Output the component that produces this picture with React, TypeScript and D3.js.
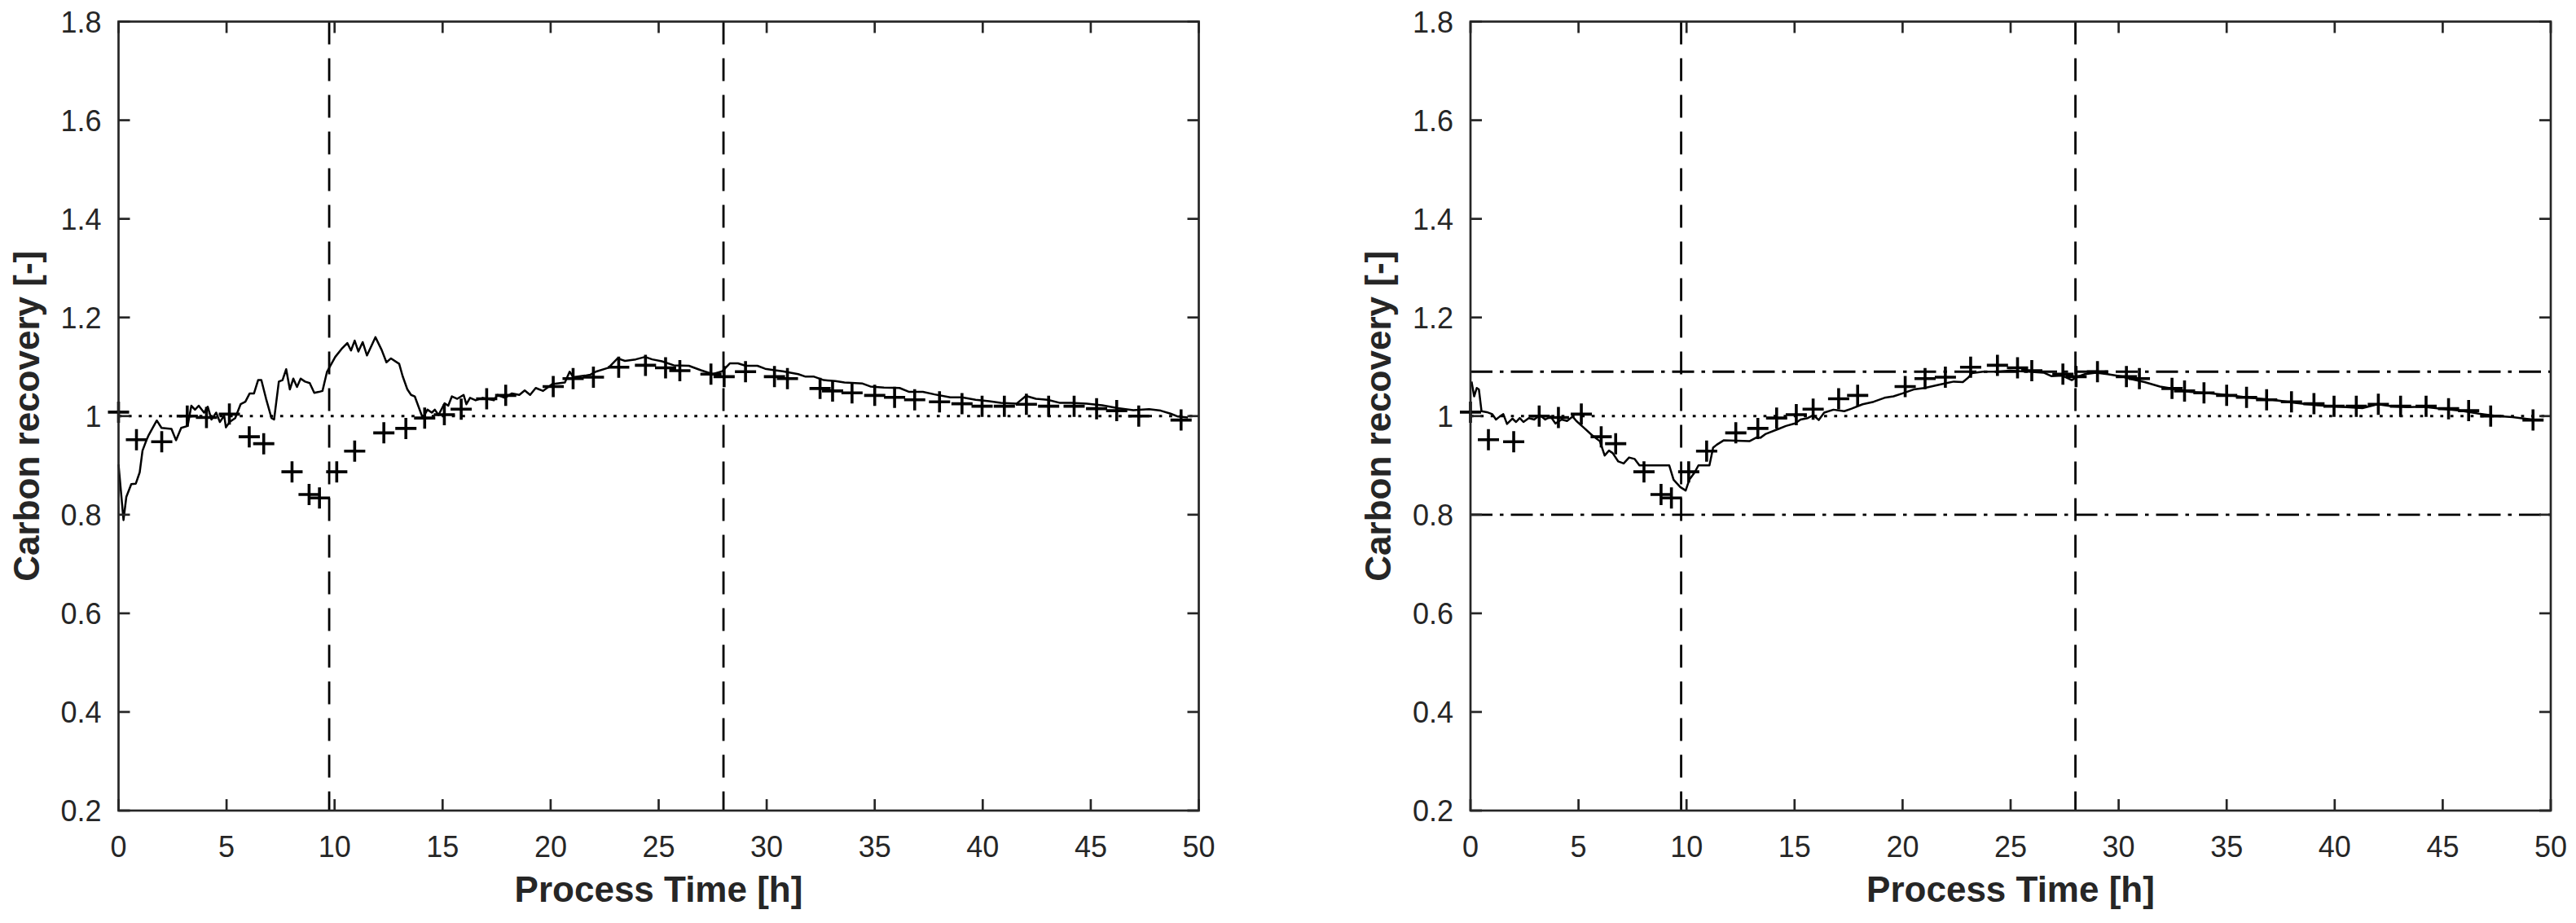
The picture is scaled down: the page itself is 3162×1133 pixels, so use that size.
import React from "react";
import * as d3 from "d3";

// ---- data ----
const xTicks = [0, 5, 10, 15, 20, 25, 30, 35, 40, 45, 50];
const yTicks = [0.2, 0.4, 0.6, 0.8, 1.0, 1.2, 1.4, 1.6, 1.8];
const yTickLabels = ["0.2", "0.4", "0.6", "0.8", "1", "1.2", "1.4", "1.6", "1.8"];
const phaseBoundaries = [9.75, 28];
const referenceLevel = 1.0;
const limitLevels = [1.09, 0.8];

// measured carbon recovery (same measurements in both panels)
const measTime = [0.0, 0.83, 2.0, 3.18, 4.07, 5.13, 6.05, 6.72, 8.03, 8.82, 9.3, 10.1, 10.93, 12.28, 13.3, 14.17, 15.08, 15.86, 17.04, 17.92, 20.12, 21.04, 21.98, 23.15, 24.39, 25.32, 25.98, 27.42, 28.03, 29.02, 30.36, 30.96, 32.47, 33.05, 33.95, 35.0, 35.92, 36.85, 38.0, 39.04, 39.97, 41.0, 42.02, 43.05, 44.23, 45.27, 46.2, 47.22, 49.18];
const measValue = [1.008, 0.952, 0.948, 1.0, 0.997, 1.004, 0.958, 0.944, 0.887, 0.841, 0.834, 0.887, 0.929, 0.966, 0.975, 0.996, 1.003, 1.014, 1.035, 1.042, 1.06, 1.076, 1.079, 1.099, 1.103, 1.098, 1.092, 1.085, 1.08, 1.09, 1.08, 1.076, 1.056, 1.051, 1.047, 1.042, 1.038, 1.033, 1.029, 1.025, 1.02, 1.02, 1.024, 1.02, 1.02, 1.015, 1.011, 1.0, 0.992];

// model, left panel
const leftModelTime = [0, 0.23, 0.36, 0.59, 0.8, 0.98, 1.11, 1.3, 1.38, 1.77, 1.99, 2.45, 2.66, 2.9, 3.2, 3.37, 3.54, 3.71, 3.96, 4.13, 4.3, 4.52, 4.69, 4.89, 4.97, 5.14, 5.4, 5.65, 5.87, 6.07, 6.27, 6.46, 6.61, 6.83, 7.08, 7.2, 7.42, 7.59, 7.76, 7.93, 8.09, 8.26, 8.43, 8.63, 8.85, 9.06, 9.27, 9.44, 9.65, 9.78, 10.03, 10.32, 10.59, 10.76, 10.93, 11.1, 11.3, 11.5, 11.89, 12.18, 12.4, 12.61, 12.99, 13.15, 13.37, 13.54, 13.71, 14.08, 14.3, 14.5, 14.64, 14.81, 15.09, 15.26, 15.43, 15.68, 15.97, 16.1, 16.27, 16.53, 16.86, 17.37, 17.54, 17.88, 18.21, 18.55, 18.8, 19.05, 19.31, 19.65, 20.07, 20.66, 20.88, 21.05, 21.59, 21.84, 22.09, 22.68, 23.1, 23.44, 23.94, 24.37, 24.7, 25.15, 25.7, 26.4, 26.96, 27.5, 27.95, 28.3, 28.67, 29.03, 29.57, 29.93, 30.38, 30.74, 31.46, 31.8, 32.19, 32.64, 33.18, 33.6, 34.44, 34.8, 35.43, 36.15, 36.6, 37.23, 37.77, 38.5, 39.04, 39.67, 40.3, 40.84, 41.56, 42.0, 42.46, 43.0, 43.55, 44.09, 44.81, 45.53, 46.25, 46.97, 47.7, 48.24, 48.69, 49.04, 49.5];
const leftModelValue = [0.902, 0.789, 0.836, 0.862, 0.863, 0.886, 0.93, 0.952, 0.96, 0.991, 0.976, 0.974, 0.951, 0.976, 0.98, 1.021, 1.013, 1.021, 1.007, 1.019, 0.993, 1.007, 0.988, 1.001, 0.977, 0.988, 0.996, 1.024, 1.029, 1.046, 1.046, 1.073, 1.073, 1.035, 0.996, 0.993, 1.07, 1.073, 1.095, 1.054, 1.076, 1.059, 1.076, 1.07, 1.067, 1.047, 1.049, 1.051, 1.09, 1.1, 1.12, 1.136, 1.148, 1.133, 1.153, 1.131, 1.15, 1.123, 1.16, 1.134, 1.109, 1.117, 1.106, 1.081, 1.054, 1.043, 1.04, 0.996, 1.013, 1.007, 1.013, 1.002, 1.026, 1.021, 1.04, 1.035, 1.043, 1.024, 1.037, 1.032, 1.037, 1.032, 1.043, 1.037, 1.046, 1.043, 1.052, 1.043, 1.057, 1.051, 1.065, 1.068, 1.09, 1.079, 1.082, 1.084, 1.09, 1.098, 1.117, 1.112, 1.115, 1.12, 1.115, 1.111, 1.103, 1.102, 1.093, 1.085, 1.091, 1.107, 1.107, 1.102, 1.102, 1.096, 1.093, 1.091, 1.085, 1.08, 1.08, 1.073, 1.071, 1.068, 1.066, 1.06, 1.058, 1.057, 1.049, 1.049, 1.044, 1.038, 1.038, 1.033, 1.03, 1.027, 1.025, 1.041, 1.035, 1.033, 1.027, 1.027, 1.025, 1.022, 1.016, 1.012, 1.014, 1.011, 1.005, 0.999, 0.997];

// model, right panel
const rightModelTime = [0.05, 0.17, 0.29, 0.39, 0.51, 0.76, 1.01, 1.18, 1.35, 1.52, 1.69, 1.94, 2.11, 2.28, 2.45, 2.7, 2.95, 3.21, 3.46, 3.71, 3.93, 4.22, 4.47, 4.73, 4.9, 5.23, 5.66, 5.99, 6.21, 6.41, 6.58, 6.84, 7.09, 7.34, 7.6, 7.82, 9.2, 9.4, 9.71, 9.96, 10.13, 10.38, 10.55, 11.06, 11.23, 11.4, 11.73, 12.91, 13.25, 13.42, 13.67, 14.26, 14.6, 15.02, 15.28, 15.61, 15.87, 16.12, 16.37, 16.8, 17.3, 17.64, 18.15, 18.66, 19.16, 19.58, 20.0, 20.51, 21.02, 21.52, 22.03, 22.37, 22.79, 23.04, 23.21, 23.72, 24.4, 24.97, 25.83, 26.53, 26.88, 27.4, 27.83, 28.09, 28.44, 28.96, 29.48, 30.17, 30.69, 31.2, 31.91, 32.6, 33.3, 34.0, 34.69, 35.38, 36.08, 37.12, 38.16, 39.2, 40.24, 41.28, 41.98, 42.67, 43.37, 44.07, 44.93, 45.8, 46.67, 47.53, 48.23, 48.75, 49.27];
const rightModelValue = [1.07, 1.04, 1.057, 1.054, 1.01, 1.008, 1.004, 0.993, 0.999, 1.004, 0.984, 0.995, 0.988, 0.996, 0.988, 0.996, 0.993, 1.002, 0.993, 0.999, 0.985, 0.993, 0.99, 0.999, 0.99, 0.977, 0.96, 0.949, 0.92, 0.93, 0.925, 0.908, 0.904, 0.916, 0.913, 0.9, 0.9, 0.871, 0.856, 0.849, 0.871, 0.886, 0.9, 0.9, 0.936, 0.942, 0.951, 0.949, 0.957, 0.956, 0.964, 0.974, 0.98, 0.985, 0.993, 0.996, 1.002, 0.992, 1.007, 1.013, 1.01, 1.015, 1.024, 1.029, 1.037, 1.04, 1.046, 1.054, 1.057, 1.062, 1.067, 1.07, 1.069, 1.078, 1.087, 1.09, 1.09, 1.092, 1.09, 1.088, 1.081, 1.082, 1.073, 1.08, 1.085, 1.088, 1.085, 1.08, 1.074, 1.069, 1.06, 1.055, 1.049, 1.047, 1.044, 1.041, 1.037, 1.033, 1.027, 1.022, 1.019, 1.016, 1.024, 1.02, 1.018, 1.019, 1.015, 1.011, 1.005, 1.0, 0.998, 0.995, 0.992];

const xLabel = "Process Time [h]";
const yLabel = "Carbon recovery [-]";

// ---- layout ----
const W = 3162;
const H = 1133;
const PLOT_W = 1326;
const TOP = 26.5;
const BOTTOM = 995;
const AXIS = "#262626";
const FONT = "'Liberation Sans', Arial, Helvetica, sans-serif";

type PanelProps = {
  left: number;
  modelT: number[];
  modelV: number[];
  showLimits: boolean;
};

function Panel({ left, modelT, modelV, showLimits }: PanelProps) {
  const x = d3.scaleLinear().domain([0, 50]).range([left, left + PLOT_W]);
  const y = d3.scaleLinear().domain([0.2, 1.8]).range([BOTTOM, TOP]);
  const line = d3
    .line<number>()
    .x((d, i) => x(modelT[i]))
    .y((d) => y(d));
  const tickLen = 14;
  const x0 = x(0), x1 = x(50), y0 = y(0.2), y1 = y(1.8);
  const m = 13;
  return (
    <g>
      {/* reference lines */}
      <line x1={x0} x2={x1} y1={y(referenceLevel)} y2={y(referenceLevel)} stroke="#000" strokeWidth={2.8} strokeDasharray="3.7 8.7" />
      {phaseBoundaries.map((b) => (
        <line key={b} x1={x(b)} x2={x(b)} y1={y1} y2={y0} stroke="#000" strokeWidth={2.8} strokeDasharray="28 17" />
      ))}
      {showLimits &&
        limitLevels.map((l) => (
          <line key={l} x1={x0} x2={x1} y1={y(l)} y2={y(l)} stroke="#000" strokeWidth={2.8} strokeDasharray="27 9 4.5 9" />
        ))}
      {/* model */}
      <path d={line(modelV) || ""} fill="none" stroke="#000" strokeWidth={2.5} strokeLinejoin="round" />
      {/* measurements */}
      <path
        d={measTime
          .map((t, i) => {
            const px = x(t), py = y(measValue[i]);
            return `M${px - m},${py}h${2 * m}M${px},${py - m}v${2 * m}`;
          })
          .join("")}
        stroke="#000"
        strokeWidth={3.6}
        fill="none"
      />
      {/* box */}
      <rect x={x0} y={y1} width={x1 - x0} height={y0 - y1} fill="none" stroke={AXIS} strokeWidth={2.7} />
      {xTicks.map((t) => (
        <g key={"xt" + t}>
          <line x1={x(t)} x2={x(t)} y1={y0} y2={y0 - tickLen} stroke={AXIS} strokeWidth={2.7} />
          <line x1={x(t)} x2={x(t)} y1={y1} y2={y1 + tickLen} stroke={AXIS} strokeWidth={2.7} />
          <text x={x(t)} y={1051.5} textAnchor="middle" fontFamily={FONT} fontSize={36} fill={AXIS}>
            {t}
          </text>
        </g>
      ))}
      {yTicks.map((t, i) => (
        <g key={"yt" + t}>
          <line x1={x0} x2={x0 + tickLen} y1={y(t)} y2={y(t)} stroke={AXIS} strokeWidth={2.7} />
          <line x1={x1} x2={x1 - tickLen} y1={y(t)} y2={y(t)} stroke={AXIS} strokeWidth={2.7} />
          <text x={x0 - 21} y={y(t) + 13} textAnchor="end" fontFamily={FONT} fontSize={36} fill={AXIS}>
            {yTickLabels[i]}
          </text>
        </g>
      ))}
      <text x={(x0 + x1) / 2} y={1107} textAnchor="middle" fontFamily={FONT} fontWeight="bold" fontSize={44} fill={AXIS}>
        {xLabel}
      </text>
      <text
        transform={`translate(${x0 - 98},${(y0 + y1) / 2}) rotate(-90)`}
        textAnchor="middle"
        fontFamily={FONT}
        fontWeight="bold"
        fontSize={44}
        fill={AXIS}
      >
        {yLabel}
      </text>
    </g>
  );
}

export default function App() {
  return (
    <svg
      width={W}
      height={H}
      viewBox={`0 0 ${W} ${H}`}
      style={{ position: "absolute", left: 0, top: 0, background: "#fff", display: "block" }}
    >
      <rect x={0} y={0} width={W} height={H} fill="#fff" />
      <Panel left={145.5} modelT={leftModelTime} modelV={leftModelValue} showLimits={false} />
      <Panel left={1805} modelT={rightModelTime} modelV={rightModelValue} showLimits={true} />
    </svg>
  );
}
